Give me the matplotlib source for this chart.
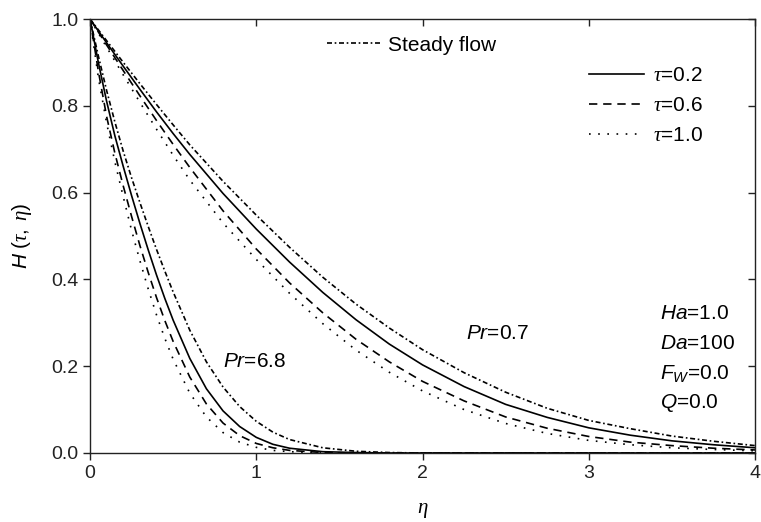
import matplotlib
matplotlib.use("Agg")
import matplotlib.pyplot as plt

plt.rcParams['font.family'] = ['Liberation Sans', 'DejaVu Sans']
plt.rcParams['mathtext.fontset'] = 'custom'
plt.rcParams['mathtext.rm'] = 'Liberation Sans'
plt.rcParams['mathtext.it'] = 'Liberation Serif:italic'
plt.rcParams['mathtext.sf'] = 'Liberation Sans:italic'

# eta grid for Pr = 0.7 curves
eta_07 = [0, 0.1, 0.2, 0.3, 0.4, 0.5, 0.6, 0.8, 1.0, 1.2, 1.4, 1.6, 1.8, 2.0,
          2.25, 2.5, 2.75, 3.0, 3.25, 3.5, 3.75, 4.0]
steady_07 = [1.0, 0.95, 0.90, 0.851, 0.803, 0.756, 0.71, 0.626, 0.548, 0.474, 0.405,
             0.343, 0.288, 0.238, 0.185, 0.14, 0.103, 0.075, 0.056, 0.039, 0.027, 0.017]
tau02_07 = [1.0, 0.945, 0.891, 0.838, 0.786, 0.736, 0.688, 0.598, 0.516, 0.44, 0.37,
            0.307, 0.251, 0.203, 0.153, 0.112, 0.082, 0.058, 0.041, 0.028, 0.019, 0.012]
tau06_07 = [1.0, 0.94, 0.881, 0.823, 0.766, 0.711, 0.658, 0.558, 0.47, 0.392, 0.323,
            0.262, 0.21, 0.165, 0.12, 0.083, 0.057, 0.038, 0.025, 0.017, 0.011, 0.007]
tau10_07 = [1.0, 0.935, 0.871, 0.808, 0.746, 0.686, 0.629, 0.53, 0.446, 0.368, 0.298,
            0.237, 0.186, 0.143, 0.10, 0.068, 0.045, 0.029, 0.019, 0.012, 0.008, 0.005]

# eta grid for Pr = 6.8 curves
eta_68 = [0, 0.05, 0.1, 0.15, 0.2, 0.25, 0.3, 0.35, 0.4, 0.45, 0.5, 0.6, 0.7, 0.8,
          0.9, 1.0, 1.1, 1.2, 1.4, 1.6, 1.8, 2.0, 2.5, 3.0, 3.5, 4.0]
steady_68 = [1.0, 0.915, 0.835, 0.762, 0.695, 0.634, 0.577, 0.522, 0.469, 0.419, 0.371,
             0.283, 0.21, 0.152, 0.107, 0.073, 0.048, 0.031, 0.012, 0.004, 0.001, 0.0,
             0.0, 0.0, 0.0, 0.0]
tau02_68 = [1.0, 0.90, 0.81, 0.73, 0.66, 0.593, 0.529, 0.468, 0.41, 0.356, 0.306,
            0.218, 0.148, 0.097, 0.061, 0.036, 0.02, 0.011, 0.003, 0.001, 0.0, 0.0,
            0.0, 0.0, 0.0, 0.0]
tau06_68 = [1.0, 0.88, 0.775, 0.69, 0.615, 0.545, 0.478, 0.416, 0.358, 0.305, 0.257,
            0.175, 0.113, 0.069, 0.04, 0.022, 0.012, 0.006, 0.001, 0.0, 0.0, 0.0,
            0.0, 0.0, 0.0, 0.0]
tau10_68 = [1.0, 0.865, 0.76, 0.67, 0.59, 0.513, 0.443, 0.378, 0.318, 0.264, 0.216,
            0.138, 0.083, 0.047, 0.025, 0.013, 0.006, 0.003, 0.0, 0.0, 0.0, 0.0,
            0.0, 0.0, 0.0, 0.0]

tau_labels = [r'$\tau$=0.2', r'$\tau$=0.6', r'$\tau$=1.0']
params = [r'$\mathsf{Ha}$=1.0', r'$\mathsf{Da}$=100',
          r'$\mathsf{F}_{\mathsf{W}}$=0.0', r'$\mathsf{Q}$=0.0']

lw = 1.2
ls_dd = (0, (3, 1.6, 1, 1.6))
ls_dash = (0, (5, 3.5))
ls_dot = (0, (1, 4.5))

fig = plt.figure(figsize=(7.61, 5.22), dpi=100)
ax = fig.add_axes([0.1183, 0.1322, 0.8739, 0.8314])

h_steady, = ax.plot(eta_07, steady_07, color='black', lw=lw, linestyle=ls_dd)
h1, = ax.plot(eta_07, tau02_07, color='black', lw=lw, linestyle='-')
h2, = ax.plot(eta_07, tau06_07, color='black', lw=lw, linestyle=ls_dash)
h3, = ax.plot(eta_07, tau10_07, color='black', lw=lw, linestyle=ls_dot)

ax.plot(eta_68, steady_68, color='black', lw=lw, linestyle=ls_dd)
ax.plot(eta_68, tau02_68, color='black', lw=lw, linestyle='-')
ax.plot(eta_68, tau06_68, color='black', lw=lw, linestyle=ls_dash)
ax.plot(eta_68, tau10_68, color='black', lw=lw, linestyle=ls_dot)

ax.set_xlim(0, 4)
ax.set_ylim(0, 1.0)
ax.set_xticks([0, 1, 2, 3, 4])
ax.set_yticks([0.0, 0.2, 0.4, 0.6, 0.8, 1.0])
ax.set_yticklabels(['0.0', '0.2', '0.4', '0.6', '0.8', '1.0'])
ax.tick_params(axis='both', labelsize=14, length=5, width=1, direction='out',
               colors='#222222', top=True, right=True)
# top/right ticks point inward
for line in ax.xaxis.get_majorticklines()[1::2]:
    line.set_marker(3)
for line in ax.yaxis.get_majorticklines()[1::2]:
    line.set_marker(0)
for sp in ax.spines.values():
    sp.set_linewidth(1.0)
    sp.set_color('#222222')

ax.set_xlabel(r'$\eta$', fontsize=15, labelpad=14)
ax.set_ylabel(r'$\mathsf{H}\ (\tau,\ \eta)$', fontsize=15, labelpad=12)

leg1 = ax.legend([h_steady], ['Steady flow'], loc='center left',
                 bbox_to_anchor=(0.356, 0.94), frameon=False, fontsize=15,
                 handlelength=2.65, handletextpad=0.3, borderpad=0,
                 borderaxespad=0)
ax.add_artist(leg1)
ax.legend([h1, h2, h3], tau_labels, loc='center left',
          bbox_to_anchor=(0.75, 0.80), frameon=False, fontsize=15,
          handlelength=2.65, handletextpad=0.45, labelspacing=0.52,
          borderpad=0, borderaxespad=0)

ax.text(2.26, 0.276, r'$\mathsf{Pr}$=0.7', fontsize=15, va='center', ha='left')
ax.text(0.80, 0.21, r'$\mathsf{Pr}$=6.8', fontsize=15, va='center', ha='left')

for i, s in enumerate(params):
    ax.text(3.43, 0.322 - i * 0.069, s, fontsize=15, va='center', ha='left')

fig.savefig('out.png', dpi=100)
